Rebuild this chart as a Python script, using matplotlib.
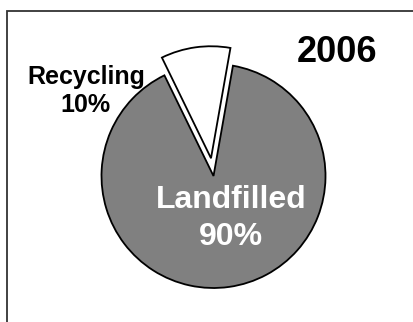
import matplotlib
matplotlib.use('Agg')
import matplotlib.pyplot as plt
from matplotlib.patches import Rectangle

plt.rcParams['font.family'] = ['Liberation Sans', 'DejaVu Sans']

labels = ['Recycling', 'Landfilled']
shares = [10, 90]
colors = ['white', '#808080']
year = '2006'

W, H = 413, 322
fig = plt.figure(figsize=(W / 100, H / 100), dpi=100)

# pie centre and radius in pixels
cx, cy, r = 213.5, 176, 112
L = 1.3
ax = fig.add_axes([(cx - r * L) / W, (H - cy - r * L) / H, 2 * r * L / W, 2 * r * L / H])

ax.pie(shares, colors=colors, startangle=80, explode=[0.16, 0],
       wedgeprops=dict(edgecolor='black', linewidth=1.3))
ax.set_xlim(-L, L)
ax.set_ylim(-L, L)
ax.set_aspect('equal')
ax.axis('off')

ax.text(0.155, -0.38, f'{labels[1]}\n{shares[1]}%', ha='center', va='center',
        color='white', fontsize=23, fontweight='bold', linespacing=1.3)
ax.text(-1.14, 0.76, f'{labels[0]}\n{shares[0]}%', ha='center', va='center',
        color='black', fontsize=18, fontweight='bold', linespacing=1.2)
ax.text(1.10, 1.10, year, ha='center', va='center',
        color='black', fontsize=26, fontweight='bold')

# frame around the chart, open on the right and bottom
fig.patches.append(Rectangle((6.8 / W, -0.1), 2.0, 1 - 10.7 / H + 0.1,
                             transform=fig.transFigure, fill=False,
                             edgecolor='#333333', linewidth=1.3))

fig.savefig('out.png', dpi=100)
